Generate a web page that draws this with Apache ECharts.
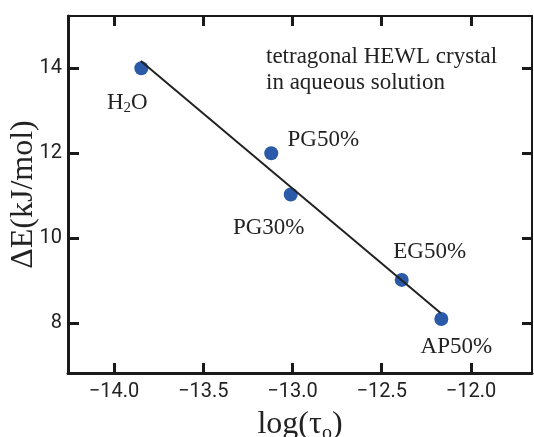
<!DOCTYPE html>
<html>
<head>
<meta charset="utf-8">
<script src="https://cdn.jsdelivr.net/npm/echarts@6/dist/echarts.min.js"></script>
<style>html,body{margin:0;padding:0;background:#fff}#c{width:534px;height:437px}</style>
</head>
<body>
<div id="c"></div>
<script>
// ---- data ----
var sampleNames = ['H2O', 'PG50%', 'PG30%', 'EG50%', 'AP50%'];
var logTau = [-13.847, -13.119, -13.010, -12.388, -12.166];
var deltaE = [14.0, 12.0, 11.03, 9.02, 8.10];
var fitX = [-13.85, -12.17];
var fitY = [14.17, 8.24];
var xTicks = [-14.0, -13.5, -13.0, -12.5, -12.0];
var yTicks = [8, 10, 12, 14];
var noteLines = ['tetragonal HEWL crystal', 'in aqueous solution'];

// ---- presentation ----
var serif = '"Liberation Serif", "DejaVu Serif", serif';
var sans = 'Roboto, "Liberation Sans", sans-serif';
var labelOffsets = [[-14, 35], [52, -13], [-22, 33], [28, -28], [15, 28]];
function fmtLabel(n) { return n === 'H2O' ? 'H{sub|2}O' : n; }

var pts = logTau.map(function (x, i) {
  return {
    value: [x, deltaE[i]],
    label: { show: true, position: 'inside', offset: labelOffsets[i], formatter: fmtLabel(sampleNames[i]) }
  };
});
var fit = fitX.map(function (x, i) { return [x, fitY[i]]; });

var xMin = -14.258, xMax = -11.658, yMin = 6.83, yMax = 15.23;

function xLab(v) { return v.toFixed(1).replace('-', '\u2212'); }

var chart = echarts.init(document.getElementById('c'), null, { renderer: 'canvas' });
chart.setOption({
  animation: false,
  backgroundColor: '#fff',
  title: {
    text: noteLines.join('\n'),
    left: 266, top: 44, padding: 0,
    textStyle: { fontFamily: serif, fontSize: 23, fontWeight: 'normal', color: '#222', lineHeight: 26 }
  },
  grid: { left: 68, right: 2, top: 16, bottom: 64, containLabel: false, outerBoundsMode: 'none' },
  xAxis: [{
    type: 'value', position: 'bottom', min: xMin, max: xMax,
    axisLine: { show: true, lineStyle: { color: '#1a1a1a', width: 3 } },
    axisTick: { show: true, inside: true, length: 10, customValues: xTicks, lineStyle: { color: '#1a1a1a', width: 3 } },
    axisLabel: { customValues: xTicks, formatter: xLab, fontFamily: sans, fontSize: 20, color: '#222', margin: 9 },
    splitLine: { show: false },
    name: 'log(\u03c4{sub|o})', nameLocation: 'middle', nameGap: 33, nameMoveOverlap: false,
    nameTextStyle: { fontFamily: serif, fontSize: 32, color: '#222',
      rich: { sub: { fontFamily: serif, fontSize: 20, padding: [18, 0, 0, 0], color: '#222' } } }
  }, {
    type: 'value', position: 'top', min: xMin, max: xMax,
    axisLine: { show: true, lineStyle: { color: '#1a1a1a', width: 2 } },
    axisTick: { show: true, inside: true, length: 10, customValues: xTicks, lineStyle: { color: '#1a1a1a', width: 3 } },
    axisLabel: { show: false }, splitLine: { show: false }
  }],
  yAxis: [{
    type: 'value', position: 'left', min: yMin, max: yMax,
    axisLine: { show: true, lineStyle: { color: '#1a1a1a', width: 3 } },
    axisTick: { show: true, inside: true, length: 11, customValues: yTicks, lineStyle: { color: '#1a1a1a', width: 3 } },
    axisLabel: { customValues: yTicks, fontFamily: sans, fontSize: 20, color: '#222', margin: 6 },
    splitLine: { show: false },
    name: '\u0394E(kJ/mol)', nameLocation: 'middle', nameGap: 28, nameRotate: 90, nameMoveOverlap: false,
    nameTextStyle: { fontFamily: serif, fontSize: 32, color: '#222' }
  }, {
    type: 'value', position: 'right', min: yMin, max: yMax,
    axisLine: { show: true, lineStyle: { color: '#1a1a1a', width: 2 } },
    axisTick: { show: true, inside: true, length: 10, customValues: yTicks, lineStyle: { color: '#1a1a1a', width: 3 } },
    axisLabel: { show: false }, splitLine: { show: false }
  }],
  series: [{
    type: 'line', data: fit, xAxisIndex: 0, yAxisIndex: 0,
    symbol: 'none', lineStyle: { color: '#222', width: 2 }, z: 3
  }, {
    type: 'scatter', data: pts, xAxisIndex: 0, yAxisIndex: 0,
    symbol: 'circle', symbolSize: 14,
    itemStyle: { color: '#2a5aa8', opacity: 1 },
    label: {
      fontFamily: serif, fontSize: 23, color: '#222',
      rich: { sub: { fontFamily: serif, fontSize: 15, padding: [10, 0, 0, 0], color: '#222' } }
    },
    z: 2
  }]
});
</script>
</body>
</html>
